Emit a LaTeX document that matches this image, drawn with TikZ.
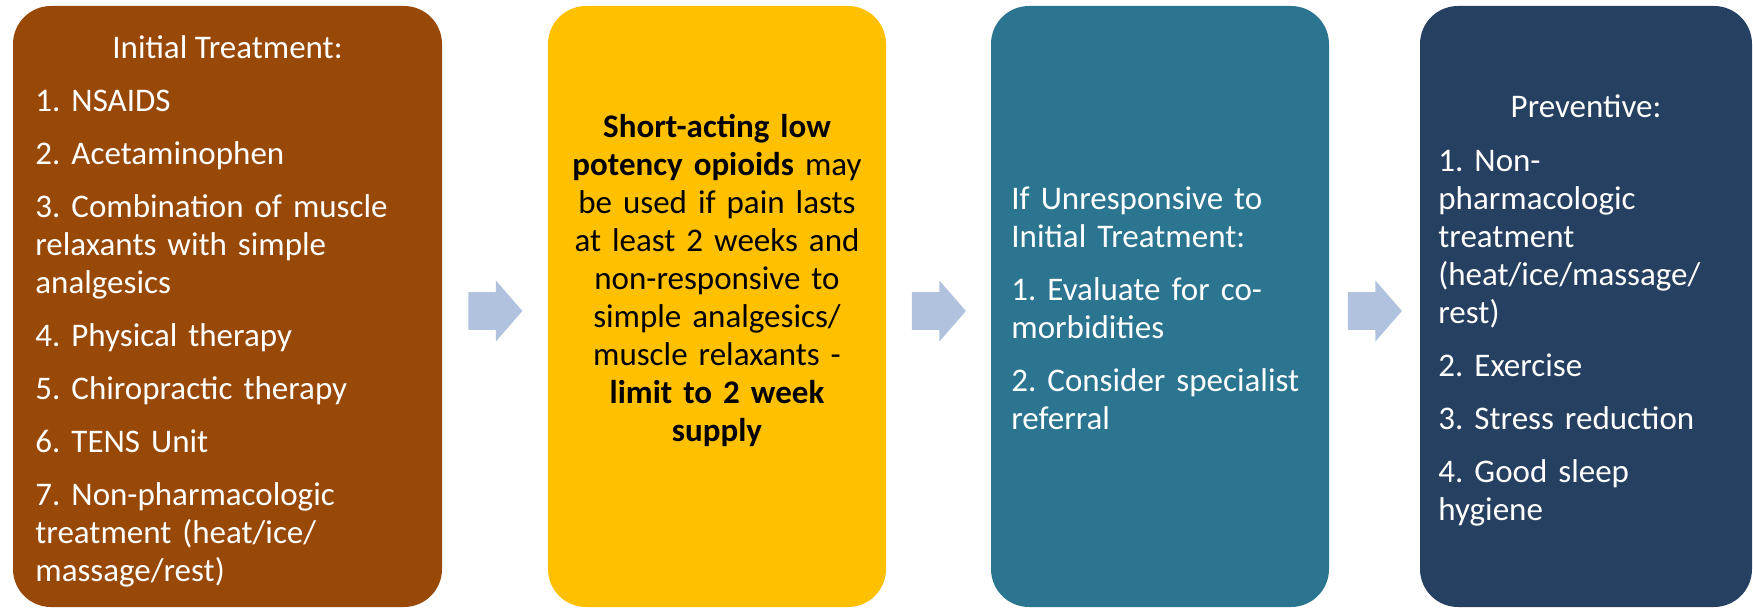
\documentclass[tikz,border=0pt]{standalone}
\usepackage{fontspec}
\setmainfont{Carlito}
\frenchspacing
\usetikzlibrary{shapes.arrows, calc, positioning}
\definecolor{initbrown}{HTML}{984807}
\definecolor{opioidgold}{HTML}{FFC000}
\definecolor{referteal}{HTML}{2B7590}
\definecolor{prevnavy}{HTML}{264061}
\definecolor{arrowblue}{HTML}{B0C2DE}
\tikzset{stagebox/.style={rounded corners=19pt, inner sep=0pt, minimum width=#1, minimum height=300.5pt}}
\tikzset{stagetxt/.style={inner sep=0pt, font=\fontsize{16.5}{19}\selectfont}}
\tikzset{steplist/.style={stagetxt, align=left, text width=#1}}
\tikzset{nextarr/.style={single arrow, fill=arrowblue, inner xsep=0pt, inner ysep=9.25pt, minimum height=27pt, single arrow head extend=5.75pt, single arrow tip angle=98, anchor=tail, xshift=-13.5pt, yshift=-2.25pt}}

\begin{document}
\begin{tikzpicture}[x=0.5pt, y=-0.5pt]
\useasboundingbox (0,0) rectangle (1753,610);
\node[stagebox=214.5pt, fill=initbrown] (b1) at (227.5,306.5) {};
\node[stagebox=169pt, fill=opioidgold] (b2) at (717,306.5) {};
\node[stagebox=169pt, fill=referteal] (b3) at (1160,306.5) {};
\node[stagebox=166pt, fill=prevnavy] (b4) at (1586,306.5) {};
\node[nextarr] (a1) at ($(b1.east)!0.5!(b2.west)$) {};
\node[nextarr] (a2) at ($(b2.east)!0.5!(b3.west)$) {};
\node[nextarr] (a3) at ($(b3.east)!0.5!(b4.west)$) {};
\node[stagetxt, anchor=base, text=white] (h1) at (227.5,59) {Initial Treatment:};
\node[steplist=205pt, anchor=base west, text=white] (t1) at (35,112)
  {1. NSAIDS\\[7.5pt]
   2. Acetaminophen\\[7.5pt]
   3. Combination of muscle\\ relaxants with simple\\ analgesics\\[7.5pt]
   4. Physical therapy\\[7.5pt]
   5. Chiropractic therapy\\[7.5pt]
   6. TENS Unit\\[7.5pt]
   7. Non-pharmacologic\\ treatment (heat/ice/\\ massage/rest)};
\node[steplist=168pt, align=center, anchor=base] (t2) at (717,138)
  {\textbf{Short-acting low}\\ \textbf{potency opioids} may\\ be used if pain lasts\\ at least 2 weeks and\\
   non-responsive to\\ simple analgesics/\\ muscle relaxants -\\ \textbf{limit to 2 week}\\ \textbf{supply}};
\node[steplist=165pt, anchor=base west, text=white] (t3) at (1011,210)
  {If Unresponsive to\\ Initial Treatment:\\[7.5pt]
   1. Evaluate for co-\\ morbidities\\[7.5pt]
   2. Consider specialist\\ referral};
\node[stagetxt, anchor=base, text=white] (h4) at (1586,118) {Preventive:};
\node[steplist=160pt, anchor=base west, text=white] (t4) at (1438,172)
  {1. Non-\\ pharmacologic\\ treatment\\ (heat/ice/massage/\\ rest)\\[7.5pt]
   2. Exercise\\[7.5pt]
   3. Stress reduction\\[7.5pt]
   4. Good sleep\\ hygiene};
\end{tikzpicture}
\end{document}
